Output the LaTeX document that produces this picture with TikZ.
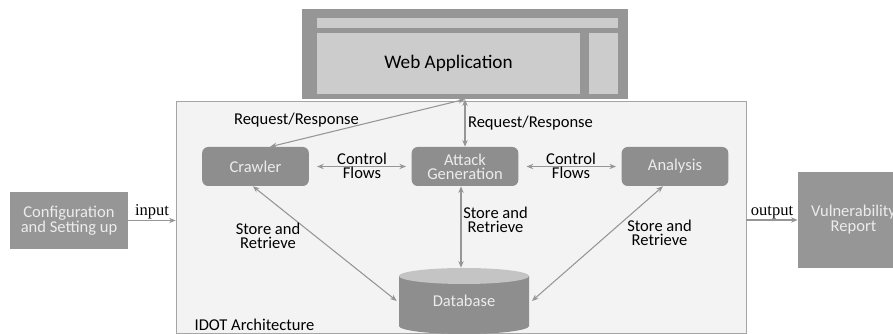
\documentclass[tikz,border=0pt]{standalone}
\usepackage{fontspec}
\setmainfont{Carlito}
\newfontfamily\labelserif{Liberation Serif}
\usetikzlibrary{arrows.meta,calc}

\definecolor{blockgray}{RGB}{142,142,142}
\definecolor{blocktext}{RGB}{236,236,236}
\definecolor{webgray}{RGB}{150,150,150}
\definecolor{panegray}{RGB}{204,204,204}
\definecolor{idotfill}{RGB}{243,243,243}
\definecolor{framegray}{RGB}{165,165,165}
\definecolor{arrowgray}{RGB}{150,150,150}
\definecolor{dbtop}{RGB}{196,196,196}

\begin{document}
\begin{tikzpicture}[x=0.75pt, y=-0.75pt,
  every node/.style={font=\fontsize{12.4}{10.5}\selectfont, align=center},
  block/.style={fill=blockgray, text=blocktext, rounded corners=4.5pt,
    minimum width=80pt, minimum height=29.25pt, inner sep=1pt},
  sidebox/.style={fill=webgray, text=blocktext, inner sep=1pt},
  twoway/.style={draw=arrowgray, line width=0.8pt,
    {Stealth[length=5pt,width=4pt]}-{Stealth[length=5pt,width=4pt]}},
  oneway/.style={draw=arrowgray, line width=0.8pt, -{Stealth[length=5pt,width=4pt]}},
  plain/.style={inner sep=1pt}]
\clip (0,0) rectangle (893,334);

% outer frame and web application
\node[draw=framegray, fill=idotfill, minimum width=427.5pt, minimum height=174pt, inner sep=0pt] (idot) at (461,217) {};
\node[plain, anchor=west] (idotname) at (193,325) {IDOT Architecture};
\node[fill=webgray, minimum width=244.5pt, minimum height=67.5pt, inner sep=0pt] (web) at (465,54) {};
\fill[panegray] (317,18) rectangle (618,28);
\fill[panegray] (589,33) rectangle (618,94);
\node[fill=panegray, minimum width=197.25pt, minimum height=45.75pt, font=\fontsize{14.4}{17}\selectfont] (webapp) at (448.5,63.5) {Web Application};

% components
\node[block] (crawler) at (255.5,166.5) {Crawler};
\node[block] (attack) at (465,166.5) {Attack\\Generation};
\node[block] (analysis) at (675,166.5) {Analysis};

% database cylinder
\fill[blockgray] (399,276) -- (399,326) arc[start angle=180, end angle=0, x radius=65, y radius=8] -- (529,276) -- cycle;
\fill[dbtop] (464,276) ellipse[x radius=65, y radius=8];
\node[minimum width=97.5pt, minimum height=49.5pt, inner sep=0pt, text=blocktext] (db) at (464,301) {Database};

% side boxes
\node[sidebox, minimum width=88.5pt, minimum height=42.75pt, font=\fontsize{12.4}{11.2}\selectfont] (config) at (69,220.5) {Configuration\\and Setting up};
\node[sidebox, minimum width=83.25pt, minimum height=72pt, font=\fontsize{12.4}{11.2}\selectfont] (vuln) at (853.5,220) {Vulnerability\\Report};

\draw[oneway] (config.east) -- (config.east -| idot.west) node[midway, above, inner sep=0.5pt, font=\labelserif\fontsize{12.4}{14}\selectfont] (inlabel) {input};
\draw[oneway] (idot.east |- vuln.west) -- (vuln.west) node[midway, above, inner sep=0.5pt, font=\labelserif\fontsize{12.4}{14}\selectfont] (outlabel) {output};

% request / response
\draw[twoway] (web.south) -- ([xshift=11pt]crawler.north);
\draw[twoway] (web.south) -- (attack.north);
\node[plain] (reqleft) at (296.5,120) {Request/Response};
\node[plain] (reqright) at (530.5,123) {Request/Response};

% control flows
\draw[twoway, shorten <=6pt, shorten >=4pt] (crawler.east) -- (attack.west);
\draw[twoway, shorten <=6pt, shorten >=4pt] (attack.east) -- (analysis.west);
\node[plain] (ctrlleft) at (362,166) {Control\\Flows};
\node[plain] (ctrlright) at (571,166) {Control\\Flows};

% store and retrieve
\draw[twoway] ([xshift=-2pt]crawler.south) -- ([xshift=-1.5pt]db.west);
\draw[twoway] ([xshift=-3pt]attack.south) -- ([xshift=-3pt]attack.south |- db.north);
\draw[twoway] ([xshift=-9pt]analysis.south) -- ([xshift=2pt]db.east);
\node[plain] (storeleft) at (268,236) {Store and\\Retrieve};
\node[plain] (storemid) at (495.5,220) {Store and\\Retrieve};
\node[plain] (storeright) at (659.5,232.5) {Store and\\Retrieve};
\end{tikzpicture}
\end{document}
